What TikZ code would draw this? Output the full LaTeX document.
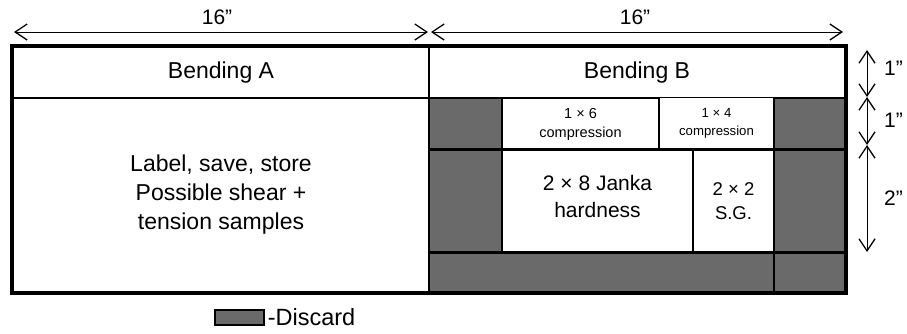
\documentclass[tikz,border=0pt]{standalone}
\usepackage{fontspec}
\setmainfont{Liberation Sans}
\usetikzlibrary{arrows.meta}
\begin{document}
\begin{tikzpicture}[x=1pt,y=-1pt,
  cell/.style={draw=black,line width=1.6pt,fill=white,inner sep=0pt,align=center},
  discard/.style={draw=black,line width=1.6pt,fill=discardgray,inner sep=0pt},
  tip/.style={Straight Barb[length=12pt,width=16pt,line width=1.3pt]},
  dimline/.style={line width=1pt,{Straight Barb[length=12pt,width=16pt,line width=1.3pt]}-{Straight Barb[length=12pt,width=16pt,line width=1.3pt]}},
  big/.style={font=\fontsize{23}{29}\selectfont},
  mid/.style={font=\fontsize{21}{27}\selectfont},
  small/.style={font=\fontsize{14.5}{19}\selectfont},
  dimlabel/.style={font=\fontsize{21}{25}\selectfont,inner sep=0pt}]
\definecolor{discardgray}{RGB}{106,106,106}
\useasboundingbox (0,0) rectangle (907,333);
\fill[white] (0,0) rectangle (907,333);
% top row
\node[cell,big,minimum width=416pt,minimum height=51pt] (bendA) at (221,72.5) {Bending A};
\node[cell,big,minimum width=416pt,minimum height=51pt] (bendB) at (637,72.5) {Bending B};
% left lower
\node[cell,big,minimum width=416pt,minimum height=194pt] (labelA) at (221,195) {Label, save, store\\Possible shear +\\tension samples};
% right lower grid
\node[discard,minimum width=73pt,minimum height=52pt] (g1) at (465.5,124) {};
\node[cell,small,minimum width=157pt,minimum height=52pt] (c16) at (580.5,124.5) {1 × 6\\compression};
\node[cell,font=\fontsize{13.2}{18}\selectfont,minimum width=115pt,minimum height=52pt] (c14) at (716.5,123.5) {1 × 4\\compression};
\node[discard,minimum width=71pt,minimum height=52pt] (g2) at (809.5,124) {};
\node[discard,minimum width=73pt,minimum height=103pt] (g3) at (465.5,201.5) {};
\node[cell,minimum width=191pt,minimum height=103pt] (janka) at (597.5,201.5) {};
\node[mid,align=center,inner sep=0pt] (jankatxt) at (597.5,196) {2 × 8 Janka\\hardness};
\node[cell,font=\fontsize{18.5}{24}\selectfont,minimum width=81pt,minimum height=103pt] (sg) at (733.5,201.5) {2 × 2\\S.G.};
\node[discard,minimum width=71pt,minimum height=103pt] (g4) at (809.5,201.5) {};
\node[discard,minimum width=345pt,minimum height=39pt] (g5) at (601.5,272.5) {};
\node[discard,minimum width=71pt,minimum height=39pt] (g6) at (809.5,272.5) {};
\draw[line width=2.8pt] (g3.north west) -- (g4.north east);
\draw[line width=2.8pt] (g5.north west) -- (g6.north east);
% outer frame
\draw[line width=3.5pt] (bendA.north west) rectangle (g6.south east);
% dimension arrows
\coordinate (t1) at (14,32);
\coordinate (t2) at (428,32);
\coordinate (t3) at (431,32);
\coordinate (t4) at (843,32);
\draw[dimline] (t1) -- (t2);
\draw[dimline] (t3) -- (t4);
\node[dimlabel] (w1) at (217,17) {16”};
\node[dimlabel] (w2) at (635,17) {16”};
\coordinate (r1) at (867,50);
\coordinate (r2) at (867,97);
\coordinate (r3) at (867,145);
\coordinate (r4) at (867,252);
\draw[dimline] (r1) -- (r2);
\draw[dimline] (r2) -- (r3);
\draw[dimline] (r3) -- (r4);
\node[dimlabel,anchor=west] (h1) at (884,68) {1”};
\node[dimlabel,anchor=west] (h2) at (884,120) {1”};
\node[dimlabel,anchor=west] (h3) at (884,198) {2”};
% legend
\node[discard,line width=1.2pt,minimum width=49pt,minimum height=15pt] (leg) at (239.5,317.5) {};
\node[font=\fontsize{23.5}{27}\selectfont,anchor=west,inner sep=0pt] (legtxt) at ([xshift=3pt]leg.east) {-Discard};
\end{tikzpicture}
\end{document}
